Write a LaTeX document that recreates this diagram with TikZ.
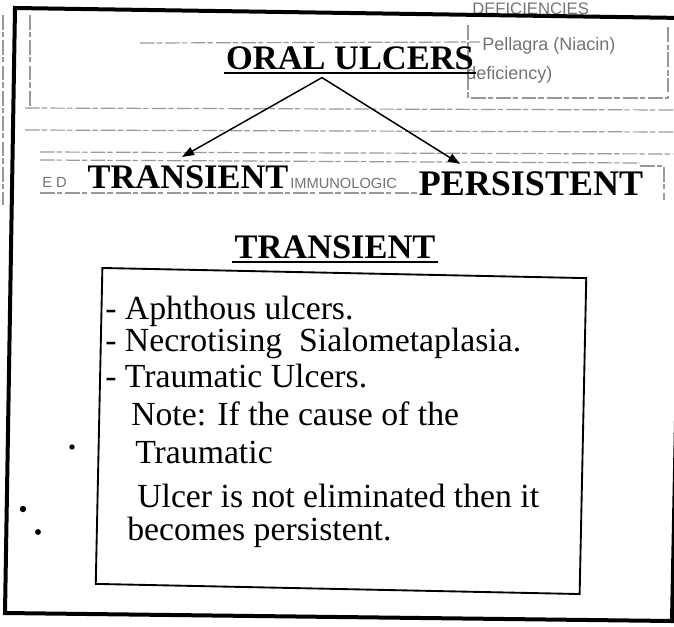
\documentclass[tikz,border=0pt]{standalone}
\usepackage{fontspec}
\setmainfont{Liberation Serif}
\newfontfamily\ghostfont{Liberation Sans}
\usetikzlibrary{arrows.meta,calc}

\begin{document}
\begin{tikzpicture}[x=0.75pt,y=-0.75pt,
  head/.style={font=\fontsize{25.8}{30}\selectfont\bfseries,inner sep=0pt,anchor=base},
  item/.style={font=\fontsize{25.3}{30}\selectfont,inner sep=0pt,anchor=base west},
  ghost/.style={font=\ghostfont\fontsize{13.5}{16}\selectfont,text=black!55,inner sep=0pt,anchor=base west},
  ghostline/.style={black!40,line width=0.9pt,dash pattern=on 11pt off 1.5pt on 4pt off 2.5pt},
  arr/.style={-{Triangle[length=9pt,width=6.5pt]},line width=1.1pt}]
\useasboundingbox (0,0) rectangle (674,626);
\begin{scope}
\clip (0,0) rectangle (674,626);
% ghost of the page behind
\node[ghost,font=\ghostfont\fontsize{12.5}{15}\selectfont] (defic) at (472,14) {DEFICIENCIES};
\draw[ghostline] (468,25) -- (468,98) -- (668,98) -- (668,25);
\node[ghost] (pellagra) at (482,50) {Pellagra (Niacin)};
\node[ghost] (defy) at (466,79) {deficiency)};
\draw[ghostline] (140,43) -- (480,42);
\draw[ghostline] (30,15) -- (30,108);
\draw[ghostline] (3,15) -- (3,205);
\draw[ghostline] (25,108) -- (674,110);
\draw[ghostline] (25,130) -- (674,132);
\draw[ghostline] (40,152) -- (674,154);
\draw[ghostline] (40,160) -- (640,163);
\draw[ghostline] (640,166) -- (664,166) -- (664,200);
\node[ghost,font=\ghostfont\fontsize{11}{13}\selectfont] (ed) at (42,187) {E D};
\node[ghost,font=\ghostfont\fontsize{11}{13}\selectfont] (immuno) at (290,188) {IMMUNOLOGIC};
\draw[ghostline] (40,193) -- (420,193);
% outer frame
\draw[line width=3pt] (15,8) -- (684,18) -- (672,621) -- (5,613) -- cycle;
\end{scope}
% headings
\node[head] (oral) at (350,69) {ORAL ULCERS};
\draw[line width=1.3pt] ($(oral.base west)+(-2,4)$) -- ($(oral.base east)+(2,4)$);
\node[head] (trans) at (188,188) {TRANSIENT};
\node[head,font=\fontsize{27}{30}\selectfont\bfseries] (pers) at (531,195) {PERSISTENT};
\draw[arr] ($(oral.south)+(-28,8)$) -- ($(trans.north)+(-6,-8)$);
\draw[arr] ($(oral.south)+(-28,8)$) -- ($(pers.north)+(-71,-7)$);
\node[head] (transhead) at (335,258) {TRANSIENT};
\draw[line width=1.3pt] ($(transhead.base west)+(-2,4)$) -- ($(transhead.base east)+(2,4)$);
% the box with its list
\node[draw,line width=1.4pt,minimum width=363pt,minimum height=237pt,rotate=-1.2] (box) at (341,431) {};
\node[item] (aph) at (105,319) {- Aphthous ulcers.};
\node[item] (necro) at (105,351) {- Necrotising~ Sialometaplasia.};
\node[item] (trauma) at (105,387) {- Traumatic Ulcers.};
\node[item] (note) at (131,425) {Note: If the cause of the};
\node[item] (note2) at (135,463) {Traumatic};
\node[item] (note3) at (137,507) {Ulcer is not eliminated then it};
\node[item] (note4) at (127,540) {becomes persistent.};
% dots
\fill (72,447) circle (2pt);
\fill (23,509) circle (2.4pt);
\fill (38,532) circle (2.2pt);
\end{tikzpicture}
\end{document}
